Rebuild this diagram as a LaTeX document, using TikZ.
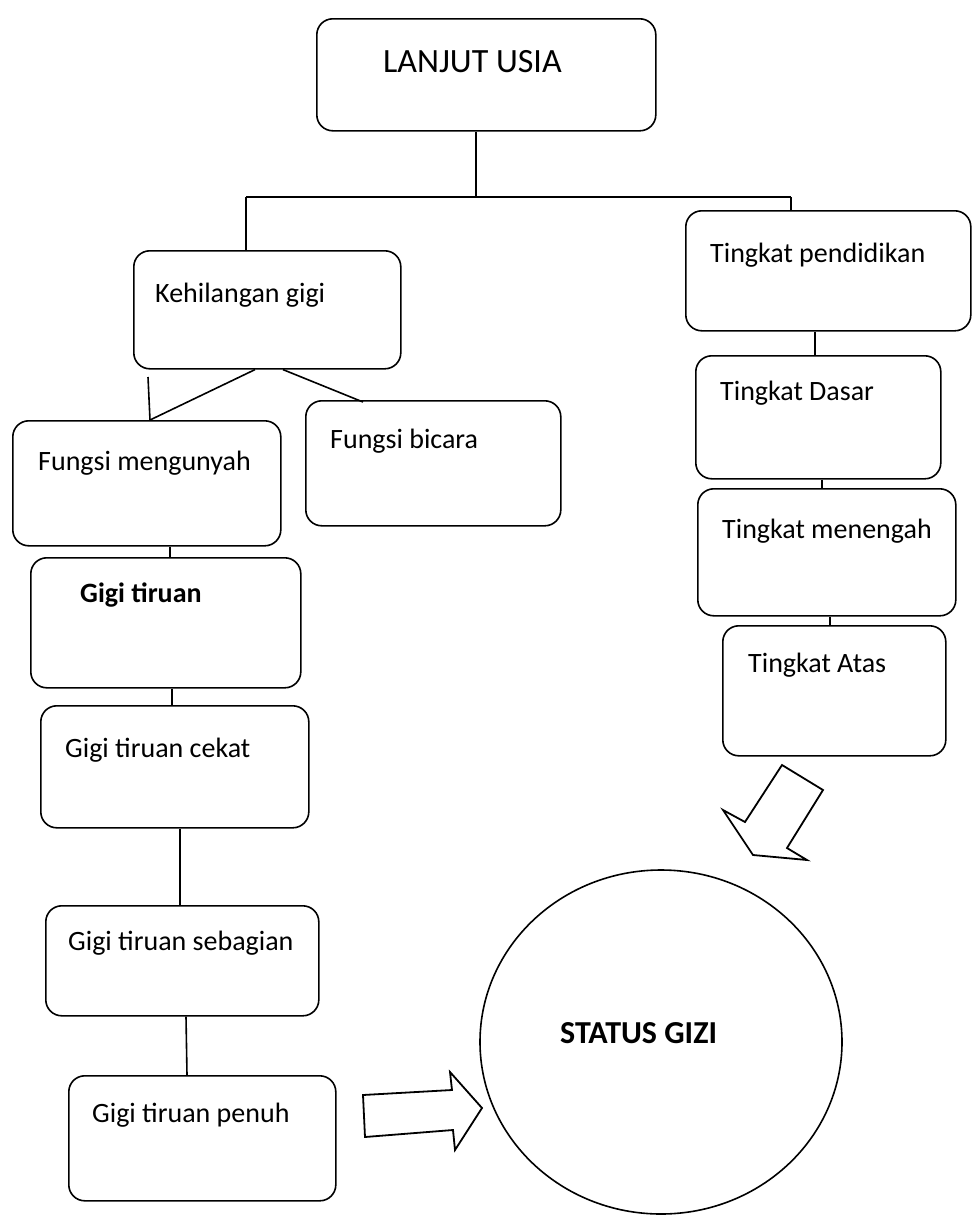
\documentclass[tikz,border=0pt]{standalone}
\usepackage{fontspec}
\setmainfont{Carlito}
\usetikzlibrary{shapes.geometric,calc}
\begin{document}
\begin{tikzpicture}[x=1pt,y=-1pt,
  bx/.style={draw=black, line width=1.6pt, rounded corners=16pt, anchor=north west, inner sep=0pt},
  lbl/.style={anchor=base west, inner sep=0pt, font=\fontsize{28}{34}\selectfont},
  conn/.style={draw=black, line width=1.6pt},
  blockarrow/.style={draw=black, line width=1.8pt, line join=miter, fill=white}]
\useasboundingbox (0,0) rectangle (972,1216);
\fill[white] (0,0) rectangle (972,1216);
\clip (0,0) rectangle (972,1216);

% boxes
\node[bx, minimum width=339, minimum height=112] (lanjut) at (316,18) {};
\node[lbl, font=\fontsize{34}{40}\selectfont] (lanjutT) at (383,72) {LANJUT USIA};

\node[bx, minimum width=267, minimum height=118] (keh) at (133,250) {};
\node[lbl] (kehT) at (155,302) {Kehilangan gigi};

\node[bx, minimum width=268, minimum height=125] (fmeng) at (12,420) {};
\node[lbl] (fmengT) at (38,470) {Fungsi mengunyah};

\node[bx, minimum width=255, minimum height=125] (fbic) at (305,400) {};
\node[lbl] (fbicT) at (330,448) {Fungsi bicara};

\node[bx, minimum width=270, minimum height=130] (gt) at (30,557) {};
\node[lbl, font=\fontsize{28}{34}\selectfont\bfseries] (gtT) at (80,602) {Gigi tiruan};

\node[bx, minimum width=268, minimum height=122] (gtc) at (40,705) {};
\node[lbl] (gtcT) at (65,757) {Gigi tiruan cekat};

\node[bx, minimum width=273, minimum height=110] (gts) at (45,905) {};
\node[lbl] (gtsT) at (68,950) {Gigi tiruan sebagian};

\node[bx, minimum width=267, minimum height=125] (gtp) at (68,1075) {};
\node[lbl] (gtpT) at (92,1122) {Gigi tiruan penuh};

\node[bx, minimum width=285, minimum height=120] (tp) at (685,210) {};
\node[lbl] (tpT) at (710,262) {Tingkat pendidikan};

\node[bx, minimum width=245, minimum height=123] (td) at (695,355) {};
\node[lbl] (tdT) at (720,400) {Tingkat Dasar};

\node[bx, minimum width=258, minimum height=127] (tm) at (697,488) {};
\node[lbl] (tmT) at (722,538) {Tingkat menengah};

\node[bx, minimum width=223, minimum height=130] (ta) at (722,625) {};
\node[lbl] (taT) at (748,672) {Tingkat Atas};

% status gizi
\node[ellipse, draw=black, line width=1.6pt, minimum width=362, minimum height=344, inner sep=0pt] (sg) at (661,1042) {};
\node[lbl, font=\fontsize{32}{38}\selectfont\bfseries] (sgT) at (560,1043) {STATUS GIZI};

% tree connectors
\coordinate (jl) at (246,197);
\coordinate (jr) at (791,197);
\coordinate (jm) at (476,197);
\draw[conn] ([xshift=160pt]lanjut.south west) -- (jm);
\draw[conn] (jl) -- (jr);
\draw[conn] (jl) -- (jl |- keh.north);
\draw[conn] (jr) -- (jr |- tp.north);

\coordinate (bicEnd) at (363,402);
\coordinate (strayTop) at (148,377);
\draw[conn] ([xshift=122pt]keh.south west) -- ([xshift=138pt]fmeng.north west);
\draw[conn] ([xshift=150pt]keh.south west) -- (bicEnd);
\draw[conn] (strayTop) -- ([xshift=138pt]fmeng.north west);

\draw[conn] ([xshift=158pt]fmeng.south west) -- ([xshift=140pt]gt.north west);
\draw[conn] ([xshift=142pt]gt.south west) -- ([xshift=132pt]gtc.north west);
\draw[conn] ([xshift=140pt]gtc.south west) -- ([xshift=135pt]gts.north west);
\draw[conn] ([xshift=141pt]gts.south west) -- ([xshift=119pt]gtp.north west);

\draw[conn] ([xshift=130pt]tp.south west) -- ([xshift=120pt]td.north west);
\draw[conn] ([xshift=127pt]td.south west) -- ([xshift=125pt]tm.north west);
\draw[conn] ([xshift=133pt]tm.south west) -- ([xshift=108pt]ta.north west);

% block arrows
\draw[blockarrow] (782,765) -- (823,790) -- (787,848) -- (807,860) -- (753,855) -- (723,810) -- (745,822) -- cycle;
\draw[blockarrow] (363,1095) -- (452,1090) -- (450,1072) -- (482,1108) -- (455,1150) -- (453,1130) -- (365,1137) -- cycle;
\end{tikzpicture}
\end{document}
